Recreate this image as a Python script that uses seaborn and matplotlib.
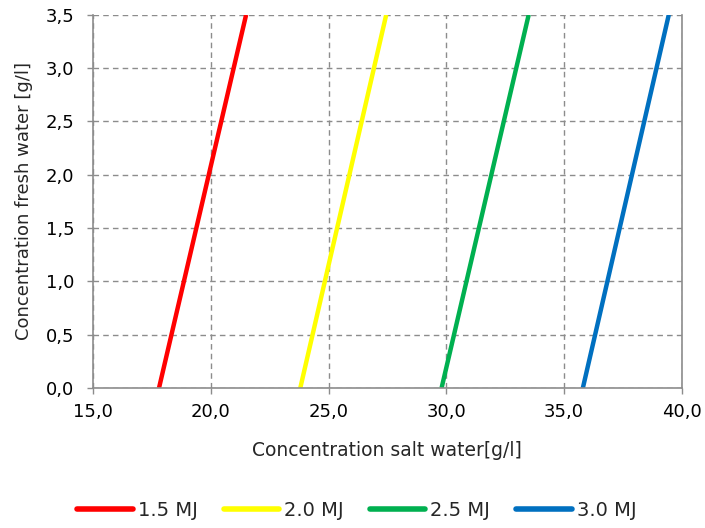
import matplotlib
matplotlib.use("Agg")
import matplotlib.pyplot as plt
import seaborn as sns
import pandas as pd
from matplotlib.ticker import FuncFormatter, MultipleLocator

series = ["1.5 MJ", "2.0 MJ", "2.5 MJ", "3.0 MJ"]
fresh = [0.0, 3.5]
salt_red = [17.8, 21.5]
salt_yellow = [23.8, 27.45]
salt_green = [29.8, 33.5]
salt_blue = [35.8, 39.45]
colors = ["#FF0000", "#FFFF00", "#00B050", "#0070C0"]

rows = []
for name, xs in zip(series, [salt_red, salt_yellow, salt_green, salt_blue]):
    for x, y in zip(xs, fresh):
        rows.append({"salt": x, "fresh": y, "series": name})
df = pd.DataFrame(rows)

sns.set_style("white")
plt.rcParams['font.family'] = ['DejaVu Sans']

fig = plt.figure(figsize=(7.05, 5.28), dpi=100)
ax = fig.add_axes([0.132, 0.265, 0.835, 0.707])

sns.lineplot(data=df, x="salt", y="fresh", hue="series", palette=colors,
             linewidth=3.2, ax=ax, sort=False, estimator=None, legend=True,
             solid_capstyle="butt")

ax.set_xlim(15, 40)
ax.set_ylim(0, 3.5)
ax.xaxis.set_major_locator(MultipleLocator(5))
ax.yaxis.set_major_locator(MultipleLocator(0.5))
fmt = FuncFormatter(lambda v, p: f"{v:.1f}".replace(".", ","))
ax.xaxis.set_major_formatter(fmt)
ax.yaxis.set_major_formatter(fmt)

ax.grid(True, color="#8c8c8c", linestyle=(0, (4, 3)), linewidth=1)
ax.set_axisbelow(True)
for s in ["left", "bottom", "right"]:
    ax.spines[s].set_color("#8c8c8c")
    ax.spines[s].set_linewidth(1.2)
ax.spines["top"].set_visible(False)
ax.tick_params(axis="both", which="major", length=4.5, width=1, color="#8c8c8c",
               labelsize=13, labelcolor="black", direction="out")
ax.tick_params(axis="x", pad=6)
ax.tick_params(axis="y", pad=9)
ax.tick_params(bottom=True, left=True)

ax.set_xlabel("Concentration salt water[g/l]", fontsize=13.5, labelpad=15)
ax.set_ylabel("Concentration fresh water [g/l]", fontsize=13, labelpad=9)

handles, labels = ax.get_legend_handles_labels()
ax.get_legend().remove()
for h in handles:
    h.set_linewidth(4)
    h.set_solid_capstyle("round")
fig.legend(handles, labels, loc="center", bbox_to_anchor=(0.506, 0.034),
           ncol=4, frameon=False, fontsize=14, handlelength=2.85,
           handletextpad=0.25, columnspacing=1.35, borderaxespad=0,
           borderpad=0)

fig.savefig("out.png", dpi=100)
